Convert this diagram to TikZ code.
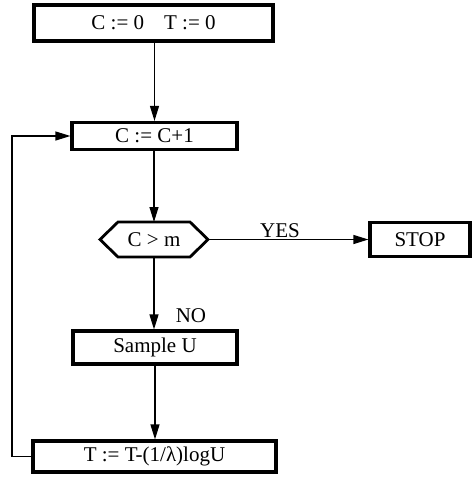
\documentclass[tikz,border=0pt]{standalone}
\usepackage{fontspec}
\setmainfont{Liberation Serif}
\usetikzlibrary{arrows.meta}

\begin{document}
\begin{tikzpicture}[x=1pt,y=-1pt,
  font=\fontsize{21}{24}\selectfont,
  stepbox/.style={draw, line width=3.2pt, rectangle, inner sep=0pt, anchor=center},
  flow/.style={line width=1.2pt, -{Triangle[length=15pt,width=9pt]}},
  plain/.style={line width=1.2pt},
  lbl/.style={inner sep=0pt, anchor=base}]
  \useasboundingbox (0,0) rectangle (473,480);

  % process boxes
  \node[stepbox, minimum width=239pt, minimum height=36pt] (init) at (153.5,23) {C := 0\hspace{20pt}T := 0};
  \node[stepbox, minimum width=165pt, minimum height=27pt] (inc) at (154.5,136) {C := C+1};
  \node[inner sep=0pt, outer sep=0pt, minimum width=108pt, minimum height=35pt] (test) at (154,239.5) {C > m};
  \draw[line width=2.8pt, line join=miter]
    (test.west) -- ([xshift=18pt]test.north west) -- ([xshift=-18pt]test.north east)
    -- (test.east) -- ([xshift=-18pt]test.south east) -- ([xshift=18pt]test.south west) -- cycle;
  \node[stepbox, minimum width=100pt, minimum height=34pt] (stop) at (420,239.5) {STOP};
  \node[stepbox, minimum width=164pt, minimum height=33pt] (samp) at (155,347.5) {Sample U};
  \node[stepbox, minimum width=243pt, minimum height=31pt] (upd) at (154.5,456.5) {T := T-(1/λ)logU};

  % connectors
  \draw[flow] (init.south -| inc.north) -- (inc.north);
  \draw[flow] (inc.south -| test.north) -- (test.north);
  \draw[flow] (test.east) -- (stop.west);
  \draw[flow] (test.south) -- (test.south |- samp.north);
  \draw[flow] (samp.south) -- (samp.south |- upd.north);
  \coordinate (back) at (12,458);
  \draw[flow] (upd.west) -- (back |- upd.west) |- (inc.west);

  % branch labels
  \node[lbl] (yes) at (280,237) {YES};
  \node[lbl] (no) at (191,322) {NO};
\end{tikzpicture}
\end{document}
